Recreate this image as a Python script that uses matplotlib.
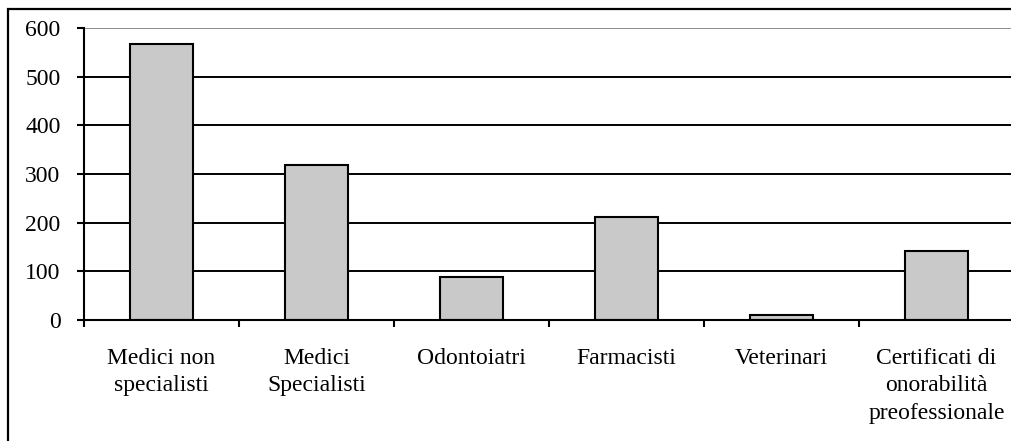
import matplotlib.pyplot as plt
from matplotlib.patches import Rectangle

categories = ['Medici non\nspecialisti', 'Medici\nSpecialisti', 'Odontoiatri',
              'Farmacisti', 'Veterinari', 'Certificati di\nonorabilità\npreofessionale']
values = [568, 318, 88, 212, 10, 142]
yticks = [0, 100, 200, 300, 400, 500, 600]

plt.rcParams['font.family'] = ['Liberation Serif', 'DejaVu Serif']

fig = plt.figure(figsize=(10.11, 4.41), dpi=100)
ax = fig.add_axes([84 / 1011, 1 - 320 / 441, 930 / 1011, 292 / 441])

# outer frame (runs off the right and bottom edges)
fig.patches.append(Rectangle((8 / 1011, -0.2), 1.2, 1 - 9 / 441 + 0.2,
                             transform=fig.transFigure, fill=False,
                             edgecolor='black', linewidth=1.6, zorder=0))

x = range(len(categories))
ax.bar(x, values, width=0.41, color='#c9c9c9', edgecolor='black',
       linewidth=1.5, zorder=3)

for v in yticks[1:-1]:
    ax.axhline(v, color='black', linewidth=1.4, zorder=1)
ax.axhline(600, color='#8c8c8c', linewidth=1.4, zorder=1)

ax.set_xlim(-0.5, len(categories) - 0.5)
ax.set_ylim(0, 600)
ax.set_yticks(yticks)
ax.set_yticklabels([str(v) for v in yticks], fontsize=17)
ax.set_xticks(list(x))
ax.set_xticklabels(categories, fontsize=17, linespacing=1.4)
ax.tick_params(axis='x', which='major', length=0, pad=20)
ax.set_xticks([i - 0.5 for i in range(len(categories) + 1)], minor=True)
ax.tick_params(axis='x', which='minor', length=5, width=1.5, direction='out')
ax.tick_params(axis='y', length=5, width=1.5, direction='out', pad=12)

for s in ['top', 'right']:
    ax.spines[s].set_visible(False)
for s in ['left', 'bottom']:
    ax.spines[s].set_linewidth(1.5)
    ax.spines[s].set_zorder(4)

fig.savefig('out.png', dpi=100)
